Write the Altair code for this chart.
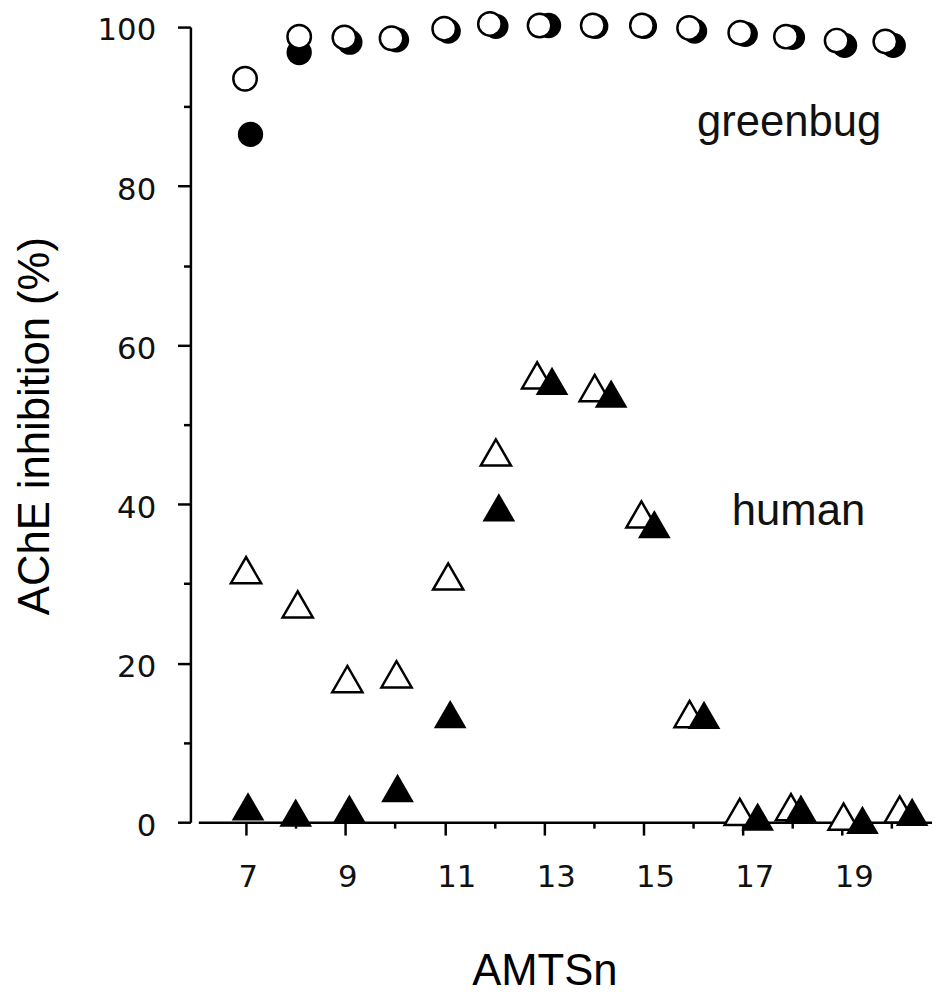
import altair as alt
import pandas as pd

# greenbug AChE (circles)
gb_open_x = [6.98, 8.07, 8.98, 9.93, 10.99, 11.91, 12.91, 13.98, 14.97, 15.92, 16.95, 17.87, 18.89, 19.87]
gb_open_y = [93.5, 98.8, 98.7, 98.6, 99.8, 100.4, 100.2, 100.2, 100.2, 99.9, 99.3, 98.8, 98.3, 98.2]
gb_fill_x = [7.09, 8.07, 9.09, 10.03, 11.07, 12.03, 13.09, 14.04, 15.02, 16.03, 17.05, 18.0, 19.05, 20.03]
gb_fill_y = [86.5, 96.8, 98.1, 98.4, 99.5, 100.1, 100.2, 100.1, 100.1, 99.5, 99.1, 98.7, 97.7, 97.7]

# human AChE (triangles)
hu_open_x = [7.0, 8.04, 9.04, 10.03, 11.07, 12.03, 12.86, 14.02, 14.96, 15.93, 16.94, 17.97, 19.03, 20.16]
hu_open_y = [31.7, 27.4, 18.0, 18.6, 30.9, 46.5, 56.2, 54.6, 38.7, 13.6, 1.3, 1.9, 0.7, 1.6]
hu_fill_x = [7.04, 8.0, 9.08, 10.05, 11.11, 12.09, 13.16, 14.35, 15.22, 16.22, 17.3, 18.17, 19.41, 20.41]
hu_fill_y = [2.0, 1.2, 1.7, 4.3, 13.6, 39.6, 55.5, 53.9, 37.5, 13.5, 0.7, 1.7, 0.3, 1.3]

# annotations
label_text = ["greenbug", "human"]
label_x = [16.08, 16.78]
label_y = [86.3, 37.4]

x_ticks = list(range(7, 21))
y_ticks = list(range(0, 101, 10))

x_scale = alt.Scale(domain=[6.04, 20.81], nice=False, zero=False)
y_scale = alt.Scale(domain=[0, 100], nice=False, zero=False)

x_axis = alt.Axis(
    values=x_ticks,
    title="AMTSn",
    grid=False,
    labelExpr="datum.value % 2 == 1 ? datum.label : ''",
    tickSize={"condition": {"test": "datum.value % 2 == 1", "value": 13}, "value": 6},
    tickWidth=2.5,
    tickColor="black",
    domainColor="black",
    domainWidth=2.5,
    labelFont="DejaVu Sans",
    labelFontSize=31,
    labelColor="#111111",
    labelAlign="left",
    labelOffset=-8,
    labelBaseline="top",
    labelPadding=28,
    labelFlush=False,
    labelOverlap=False,
    titleFont="Liberation Sans",
    titleFontSize=44,
    titleFontWeight="normal",
    titleColor="black",
    titleX=349,
    titleY=164,
    titleAlign="center",
    titleBaseline="alphabetic",
)

y_axis = alt.Axis(
    values=y_ticks,
    title="AChE inhibition (%)",
    grid=False,
    offset=8,
    labelExpr="datum.value % 20 == 0 ? datum.label : ''",
    tickSize={"condition": {"test": "datum.value % 20 == 0", "value": 13}, "value": 7},
    tickWidth=2.5,
    tickColor="black",
    domainColor="black",
    domainWidth=2.5,
    labelFont="DejaVu Sans",
    labelFontSize=31,
    labelColor="#111111",
    labelAlign="right",
    labelBaseline="middle",
    labelOffset=4,
    labelPadding=22,
    labelFlush=False,
    labelOverlap=False,
    titleFont="Liberation Sans",
    titleFontSize=44,
    titleFontWeight="normal",
    titleColor="black",
    titleAngle=270,
    titleX=-143,
    titleY=402,
    titleAlign="center",
    titleBaseline="alphabetic",
)

def frame(xs, ys):
    return pd.DataFrame({"x": xs, "y": ys})

def enc(ch):
    return ch.encode(
        x=alt.X("x:Q", scale=x_scale, axis=x_axis),
        y=alt.Y("y:Q", scale=y_scale, axis=y_axis),
    )

gb_fill = enc(alt.Chart(frame(gb_fill_x, gb_fill_y)).mark_point(
    shape="circle", filled=True, color="black", size=650, opacity=1))
gb_open = enc(alt.Chart(frame(gb_open_x, gb_open_y)).mark_point(
    shape="circle", filled=True, fill="white", stroke="black", strokeWidth=2.5, size=560, opacity=1))
hu_open = enc(alt.Chart(frame(hu_open_x, hu_open_y)).mark_point(
    shape="triangle-up", filled=True, fill="white", stroke="black", strokeWidth=2.5, size=930, opacity=1))
hu_fill = enc(alt.Chart(frame(hu_fill_x, hu_fill_y)).mark_point(
    shape="triangle-up", filled=True, color="black", size=1089, opacity=1))

labels = alt.Chart(pd.DataFrame({"t": label_text, "x": label_x, "y": label_y})).mark_text(
    font="Liberation Sans", fontSize=44, align="left", baseline="alphabetic", color="#111111"
).encode(
    x=alt.X("x:Q", scale=x_scale, axis=x_axis),
    y=alt.Y("y:Q", scale=y_scale, axis=y_axis),
    text="t:N",
)

chart = alt.layer(gb_fill, gb_open, hu_open, hu_fill, labels).properties(
    width=740,
    height=802,
    autosize="none",
    padding={"left": 192, "top": 15, "right": 0, "bottom": 167},
    background="white",
).configure_view(stroke=None)

chart.save("out.html", embed_options={"renderer": "svg", "actions": False})
